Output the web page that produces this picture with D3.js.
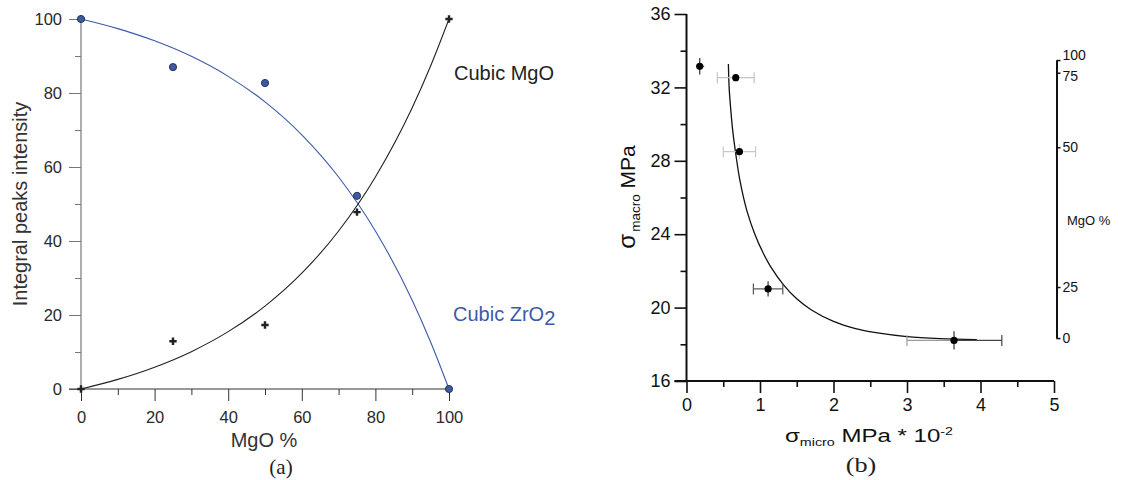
<!DOCTYPE html>
<html>
<head>
<meta charset="utf-8">
<script src="https://cdn.jsdelivr.net/npm/d3@7"></script>
<style>
  html, body { margin: 0; padding: 0; background: #fff; }
  svg { display: block; font-family: "Liberation Sans", Arial, sans-serif; }
  .serif { font-family: "Liberation Serif", "Times New Roman", serif; }
</style>
</head>
<body>
<svg id="chart" width="1122" height="480"></svg>
<script>
/* Two panels: (a) integral peak intensity vs MgO %, (b) macro vs micro stress. */

// --- panel (a) data ---
const mgoPercent = [0, 25, 50, 75, 100];
const zrIntensity = [100, 87, 82.7, 52.2, 0];
const mgoIntensity = [0, 12.9, 17.3, 47.8, 100];
// fitted curves
const fitMgo = [0, 10, 20, 30, 40, 50, 60, 70, 80, 90, 95, 100];
const zrFit = [100, 97.4, 94.1, 89.9, 84.5, 77.6, 68.7, 57.3, 42.7, 24, 12.7, 0];
const mgoFit = [0, 2.6, 5.9, 10.1, 15.5, 22.4, 31.3, 42.7, 57.3, 76, 87.3, 100];
const xTicksA = [0, 20, 40, 60, 80, 100];
const yTicksA = [0, 20, 40, 60, 80, 100];

// --- panel (b) data ---
const microStress = [0.18, 0.67, 0.72, 1.11, 3.64];
const macroStress = [33.15, 32.53, 28.5, 21.02, 18.21];
const microLo = [0.13, 0.42, 0.50, 0.91, 3.0];
const microHi = [0.24, 0.92, 0.94, 1.31, 4.29];
const macroErr = [0.45, 0, 0.4, 0.42, 0.5];
const fitMicro = [0.57, 0.58, 0.60, 0.63, 0.673, 0.728, 0.82, 0.93, 1.04, 1.14, 1.32, 1.5, 1.7, 2.0, 2.3, 2.6, 3.0, 3.45, 3.95];
const fitMacro = [33.27, 32.0, 30.9, 29.6, 28.3, 26.9, 25.3, 24.0, 23.0, 22.26, 21.24, 20.48, 19.87, 19.25, 18.86, 18.62, 18.42, 18.31, 18.25];
const xTicksB = [0, 1, 2, 3, 4, 5];
const yTicksB = [16, 20, 24, 28, 32, 36];
const mgoTicksB = [0, 25, 50, 75, 100];
const mgoTickMacro = [18.34, 21.12, 28.74, 32.8, 33.49];

const svg = d3.select("#chart");
const blue = "#3d5aa8";
const sans = "Liberation Sans, Arial, sans-serif";

/* ---------- panel (a) ---------- */
(function () {
  const x = d3.scaleLinear([0, 100], [81, 449]);
  const y = d3.scaleLinear([0, 100], [389, 19]);
  const g = svg.append("g");

  // minor ticks
  g.append("g").attr("transform", `translate(0,${y(0)})`)
    .call(d3.axisBottom(x).tickValues([10, 30, 50, 70, 90]).tickSize(6).tickFormat(""))
    .call(a => a.select(".domain").remove())
    .selectAll("line").attr("stroke", "#333");
  g.append("g").attr("transform", `translate(${x(0)},0)`)
    .call(d3.axisLeft(y).tickValues([10, 30, 50, 70, 90]).tickSize(6).tickFormat(""))
    .call(a => a.select(".domain").remove())
    .selectAll("line").attr("stroke", "#777");

  const xa = g.append("g").attr("transform", `translate(0,${y(0)})`)
    .call(d3.axisBottom(x).tickValues(xTicksA).tickSize(12).tickPadding(10));
  xa.select(".domain").remove();
  xa.selectAll("line").attr("stroke", "#333");
  xa.selectAll("text").attr("font-size", 16.5).attr("fill", "#2a2a2a").attr("font-family", sans);

  const ya = g.append("g").attr("transform", `translate(${x(0)},0)`)
    .call(d3.axisLeft(y).tickValues(yTicksA).tickSize(12).tickPadding(7));
  ya.select(".domain").remove();
  ya.selectAll("line").attr("stroke", "#777");
  ya.selectAll("text").attr("font-size", 16.5).attr("fill", "#2a2a2a").attr("font-family", sans);

  g.append("line").attr("x1", x(0)).attr("x2", x(0)).attr("y1", y(100)).attr("y2", y(0))
    .attr("stroke", "#777").attr("stroke-width", 1.2);
  g.append("line").attr("x1", x(0) - 12).attr("x2", x(100)).attr("y1", y(0)).attr("y2", y(0))
    .attr("stroke", "#333").attr("stroke-width", 1.2);

  const line = d3.line().x(d => x(d[0])).y(d => y(d[1])).curve(d3.curveMonotoneX);
  g.append("path").attr("d", line(d3.zip(fitMgo, zrFit)))
    .attr("fill", "none").attr("stroke", blue).attr("stroke-width", 1.1);
  g.append("path").attr("d", line(d3.zip(fitMgo, mgoFit)))
    .attr("fill", "none").attr("stroke", "#222").attr("stroke-width", 1.1);

  g.selectAll("circle.zr").data(d3.zip(mgoPercent, zrIntensity)).join("circle")
    .attr("class", "zr")
    .attr("cx", d => x(d[0])).attr("cy", d => y(d[1])).attr("r", 3.6)
    .attr("fill", blue).attr("stroke", "#1f2a44").attr("stroke-width", 0.9);

  g.selectAll("path.mg").data(d3.zip(mgoPercent, mgoIntensity)).join("path")
    .attr("class", "mg")
    .attr("transform", d => `translate(${x(d[0])},${y(d[1])})`)
    .attr("d", d3.symbol(d3.symbolCross, 30))
    .attr("fill", "#222");

  g.append("text").attr("x", 454).attr("y", 80).attr("font-size", 20).attr("fill", "#222")
    .text("Cubic MgO");
  const zt = g.append("text").attr("x", 453).attr("y", 321).attr("font-size", 20).attr("fill", blue);
  zt.append("tspan").text("Cubic ZrO");
  zt.append("tspan").attr("dy", 4).text("2");

  g.append("text").attr("x", 264).attr("y", 447).attr("text-anchor", "middle")
    .attr("font-size", 20).attr("fill", "#333").text("MgO %");
  g.append("text").attr("class", "serif").attr("x", 281).attr("y", 474).attr("text-anchor", "middle")
    .attr("font-size", 21).attr("fill", "#222").text("(a)");
  g.append("text").attr("transform", "translate(27,204) rotate(-90)").attr("text-anchor", "middle")
    .attr("font-size", 20).attr("fill", "#333").text("Integral peaks intensity");
})();

/* ---------- panel (b) ---------- */
(function () {
  const x = d3.scaleLinear([0, 5], [686.5, 1054]);
  const y = d3.scaleLinear([16, 36], [381, 14]);
  const g = svg.append("g");

  g.append("g").attr("transform", `translate(0,${y(16)})`)
    .call(d3.axisBottom(x).tickValues([0.5, 1.5, 2.5, 3.5, 4.5]).tickSize(6).tickFormat(""))
    .call(a => a.select(".domain").remove())
    .selectAll("line").attr("stroke", "#111").attr("stroke-width", 1.6);
  g.append("g").attr("transform", `translate(${x(0)},0)`)
    .call(d3.axisLeft(y).tickValues([18, 22, 26, 30, 34]).tickSize(6).tickFormat(""))
    .call(a => a.select(".domain").remove())
    .selectAll("line").attr("stroke", "#111").attr("stroke-width", 1.6);

  const xa = g.append("g").attr("transform", `translate(0,${y(16)})`)
    .call(d3.axisBottom(x).tickValues(xTicksB).tickFormat(d3.format("d")).tickSize(12).tickPadding(5));
  xa.select(".domain").remove();
  xa.selectAll("line").attr("stroke", "#111").attr("stroke-width", 1.6);
  xa.selectAll("text").attr("font-size", 18).attr("fill", "#111").attr("font-family", sans);

  const ya = g.append("g").attr("transform", `translate(${x(0)},0)`)
    .call(d3.axisLeft(y).tickValues(yTicksB).tickSize(12).tickPadding(4));
  ya.select(".domain").remove();
  ya.selectAll("line").attr("stroke", "#111").attr("stroke-width", 1.6);
  ya.selectAll("text").attr("font-size", 18).attr("fill", "#111").attr("font-family", sans);

  g.append("line").attr("x1", x(0)).attr("x2", x(0)).attr("y1", y(36)).attr("y2", y(16))
    .attr("stroke", "#111").attr("stroke-width", 2);
  g.append("line").attr("x1", x(0) - 12).attr("x2", x(5)).attr("y1", y(16)).attr("y2", y(16))
    .attr("stroke", "#111").attr("stroke-width", 2);

  // right MgO % axis, placed at the macro stress of each composition
  const mgo = d3.scaleLinear().domain(mgoTicksB).range(mgoTickMacro.map(y));
  const ra = g.append("g").attr("transform", "translate(1056.5,0)")
    .call(d3.axisRight(mgo).tickValues(mgoTicksB).tickSize(4).tickSizeOuter(0).tickPadding(2));
  ra.select(".domain").attr("stroke", "#111").attr("stroke-width", 2);
  ra.selectAll("line").attr("stroke", "#111").attr("stroke-width", 1.5);
  ra.selectAll("text").attr("font-size", 14).attr("fill", "#111").attr("font-family", sans)
    .attr("dy", d => d === 100 ? "-0.05em" : d === 75 ? "0.55em" : "0.32em");
  g.append("text").attr("x", 1067).attr("y", 225).attr("font-size", 13).attr("fill", "#111")
    .text("MgO %");

  // fit curve
  const line = d3.line().x(d => x(d[0])).y(d => y(d[1])).curve(d3.curveCatmullRom.alpha(0.5));
  g.append("path").attr("d", line(d3.zip(fitMicro, fitMacro)))
    .attr("fill", "none").attr("stroke", "#111").attr("stroke-width", 1.3);

  // error bars
  const pts = microStress.map((m, i) => ({
    x: m, y: macroStress[i], lo: microLo[i], hi: microHi[i], e: macroErr[i], i
  }));
  const shade = ["#555", "#c4c4c4", "#c8c8c8", "#555", "#444"];
  const caps = [false, true, true, true, true];
  const eb = g.append("g");
  pts.forEach(p => {
    const c = shade[p.i];
    if (p.i === 4) {
      // left half lighter on the last point
      eb.append("line").attr("x1", x(p.lo)).attr("x2", x(p.x)).attr("y1", y(p.y)).attr("y2", y(p.y))
        .attr("stroke", "#9a9a9a").attr("stroke-width", 1.3);
      eb.append("line").attr("x1", x(p.x)).attr("x2", x(p.hi)).attr("y1", y(p.y)).attr("y2", y(p.y))
        .attr("stroke", c).attr("stroke-width", 1.3);
    } else {
      eb.append("line").attr("x1", x(p.lo)).attr("x2", x(p.hi)).attr("y1", y(p.y)).attr("y2", y(p.y))
        .attr("stroke", c).attr("stroke-width", 1.2);
    }
    if (caps[p.i]) {
      [[p.lo, p.i === 4 ? "#9a9a9a" : c], [p.hi, c]].forEach(([v, col]) => {
        eb.append("line").attr("x1", x(v)).attr("x2", x(v))
          .attr("y1", y(p.y) - 5.5).attr("y2", y(p.y) + 5.5)
          .attr("stroke", col).attr("stroke-width", 1.2);
      });
    }
    if (p.e > 0) {
      eb.append("line").attr("x1", x(p.x)).attr("x2", x(p.x))
        .attr("y1", y(p.y + p.e)).attr("y2", y(p.y - p.e))
        .attr("stroke", p.i === 2 ? "#c8c8c8" : "#333").attr("stroke-width", 1.2);
    }
  });

  g.selectAll("circle.pt").data(pts).join("circle").attr("class", "pt")
    .attr("cx", d => x(d.x)).attr("cy", d => y(d.y)).attr("r", 3.6).attr("fill", "#000");

  // axis titles
  const yl = g.append("text").attr("transform", "translate(635,197) rotate(-90)")
    .attr("text-anchor", "middle").attr("fill", "#111");
  yl.append("tspan").attr("font-size", 24).text("σ");
  yl.append("tspan").attr("font-size", 13.5).attr("dy", 5).attr("dx", 2).text("macro");
  yl.append("tspan").attr("font-size", 21).attr("dy", -5).text(" MPa");

  // the bottom titles of this panel are drawn a bit wider than tall
  const xl = g.append("text").attr("transform", "translate(869,442) scale(1.3,1)")
    .attr("text-anchor", "middle").attr("fill", "#111");
  xl.append("tspan").attr("font-size", 18.5).text("σ");
  xl.append("tspan").attr("font-size", 11).attr("dy", 4).text("micro");
  xl.append("tspan").attr("font-size", 18.5).attr("dy", -4).text(" MPa * 10");
  xl.append("tspan").attr("font-size", 11).attr("dy", -7).text("-2");

  g.append("text").attr("class", "serif").attr("transform", "translate(861,472) scale(1.25,1)")
    .attr("text-anchor", "middle").attr("font-size", 21).attr("fill", "#222").text("(b)");
})();
</script>
</body>
</html>
